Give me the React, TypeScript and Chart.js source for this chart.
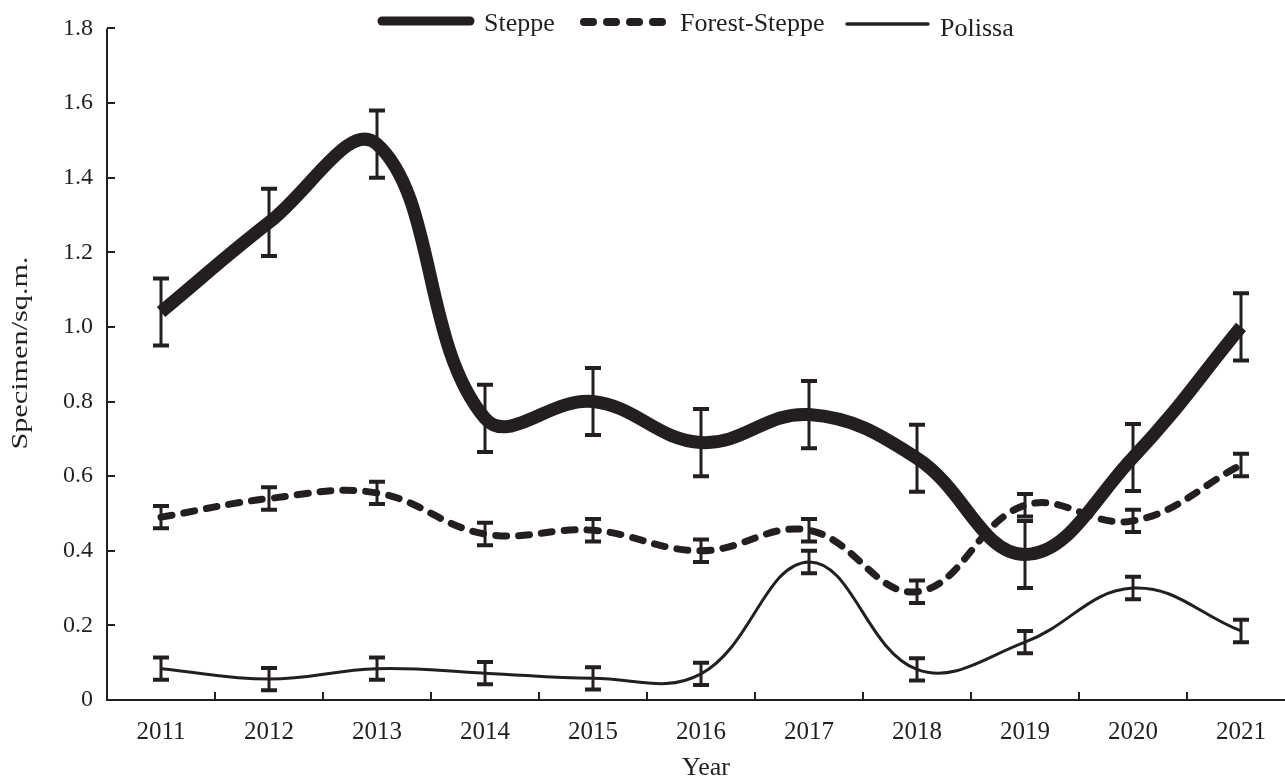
import React, { useEffect, useRef } from 'react';
import { Chart, registerables } from 'chart.js';

Chart.register(...registerables);

// Survey years
const years = ['2011', '2012', '2013', '2014', '2015', '2016', '2017', '2018', '2019', '2020', '2021'];

// Mean density (specimen per sq.m.) by natural zone, with error margins
const steppe = [1.04, 1.28, 1.49, 0.755, 0.80, 0.69, 0.765, 0.648, 0.39, 0.65, 1.0];
const steppeErr = [0.09, 0.09, 0.09, 0.09, 0.09, 0.09, 0.09, 0.09, 0.09, 0.09, 0.09];

const forestSteppe = [0.49, 0.54, 0.555, 0.445, 0.455, 0.40, 0.455, 0.29, 0.522, 0.48, 0.63];
const forestSteppeErr = [0.03, 0.03, 0.03, 0.03, 0.03, 0.03, 0.03, 0.03, 0.03, 0.03, 0.03];

const polissa = [0.084, 0.056, 0.084, 0.072, 0.058, 0.07, 0.37, 0.082, 0.155, 0.30, 0.185];
const polissaErr = [0.03, 0.03, 0.03, 0.03, 0.03, 0.03, 0.03, 0.03, 0.03, 0.03, 0.03];

const yTicks = [0, 0.2, 0.4, 0.6, 0.8, 1.0, 1.2, 1.4, 1.6, 1.8];

const INK = '#231f20';
const SERIF = '"Liberation Serif", "Times New Roman", serif';

const errors = [steppeErr, forestSteppeErr, polissaErr];

// Axis frame, inward tick marks, error bars, titles and the line legend
const framePlugin = {
  id: 'frame',
  afterDatasetsDraw(chart: any) {
    const { ctx, chartArea, scales } = chart;
    const xs = scales.x;
    const ys = scales.y;
    ctx.save();
    ctx.strokeStyle = INK;
    ctx.lineCap = 'butt';

    // error bars
    chart.data.datasets.forEach((ds: any, di: number) => {
      const err = errors[di];
      ds.data.forEach((v: number, i: number) => {
        const x = xs.getPixelForValue(i);
        const yTop = ys.getPixelForValue(v + err[i]);
        const yBot = ys.getPixelForValue(v - err[i]);
        ctx.lineWidth = 3;
        ctx.beginPath();
        ctx.moveTo(x, yTop);
        ctx.lineTo(x, yBot);
        ctx.stroke();
        ctx.lineWidth = 4;
        ctx.beginPath();
        ctx.moveTo(x - 8, yTop);
        ctx.lineTo(x + 8, yTop);
        ctx.moveTo(x - 8, yBot);
        ctx.lineTo(x + 8, yBot);
        ctx.stroke();
      });
    });

    // axis lines
    ctx.lineWidth = 2;
    ctx.beginPath();
    ctx.moveTo(chartArea.left, chartArea.top);
    ctx.lineTo(chartArea.left, chartArea.bottom);
    ctx.lineTo(chartArea.right, chartArea.bottom);
    ctx.stroke();

    // y tick marks, pointing into the plot
    ctx.beginPath();
    yTicks.forEach((t) => {
      if (t === 0) return;
      const y = Math.round(ys.getPixelForValue(t));
      ctx.moveTo(chartArea.left, y);
      ctx.lineTo(chartArea.left + 8, y);
    });
    // x tick marks at category boundaries
    for (let i = 0; i < years.length - 1; i++) {
      const x = Math.round((xs.getPixelForValue(i) + xs.getPixelForValue(i + 1)) / 2);
      ctx.moveTo(x, chartArea.bottom);
      ctx.lineTo(x, chartArea.bottom - 8);
    }
    ctx.stroke();

    // axis titles
    ctx.fillStyle = INK;
    ctx.textAlign = 'center';
    ctx.textBaseline = 'alphabetic';
    ctx.font = `26px ${SERIF}`;
    ctx.fillText('Year', (chartArea.left + chartArea.right) / 2 + 5, 775);
    ctx.font = `24px ${SERIF}`;
    ctx.save();
    ctx.translate(27, 353);
    ctx.rotate(-Math.PI / 2);
    ctx.scale(1.26, 1);
    ctx.fillText('Specimen/sq.m.', 0, 0);
    ctx.restore();

    // legend
    const items = [
      { label: 'Steppe', x0: 382, x1: 470, y: 21, width: 9, dash: [] as number[], tx: 484, ty: 31 },
      { label: 'Forest-Steppe', x0: 584, x1: 664, y: 22, width: 8, dash: [9, 14], tx: 680, ty: 31 },
      { label: 'Polissa', x0: 847, x1: 928, y: 24, width: 3.5, dash: [] as number[], tx: 940, ty: 36 },
    ];
    ctx.font = `26px ${SERIF}`;
    ctx.textAlign = 'left';
    items.forEach((it) => {
      ctx.lineWidth = it.width;
      ctx.lineCap = 'round';
      ctx.setLineDash(it.dash);
      ctx.beginPath();
      ctx.moveTo(it.x0, it.y);
      ctx.lineTo(it.x1, it.y);
      ctx.stroke();
      ctx.setLineDash([]);
      ctx.fillText(it.label, it.tx, it.ty);
    });
    ctx.restore();
  },
};

export default function App() {
  const canvasRef = useRef<HTMLCanvasElement | null>(null);

  useEffect(() => {
    document.body.style.margin = '0';
    const canvas = canvasRef.current;
    if (!canvas) return;
    const chart = new Chart(canvas, {
      type: 'line',
      data: {
        labels: years,
        datasets: [
          {
            label: 'Steppe',
            data: steppe,
            borderColor: INK,
            borderWidth: 13,
            tension: 0.4,
            pointRadius: 0,
            fill: false,
          },
          {
            label: 'Forest-Steppe',
            data: forestSteppe,
            borderColor: INK,
            borderWidth: 7,
            borderDash: [11, 12],
            borderCapStyle: 'round',
            tension: 0.4,
            pointRadius: 0,
            fill: false,
          },
          {
            label: 'Polissa',
            data: polissa,
            borderColor: INK,
            borderWidth: 3,
            tension: 0.4,
            pointRadius: 0,
            fill: false,
          },
        ],
      },
      options: {
        animation: false,
        responsive: false,
        devicePixelRatio: 1,
        layout: { padding: { top: 22, left: 0, right: 0, bottom: 0 } },
        plugins: {
          legend: { display: false },
          tooltip: { enabled: false },
        },
        scales: {
          x: {
            type: 'category',
            offset: true,
            grid: { display: false, drawTicks: false },
            border: { display: false },
            ticks: {
              color: INK,
              font: { family: SERIF, size: 25 },
              padding: 17,
              maxRotation: 0,
            },
            afterFit: (scale: any) => {
              scale.height = 77;
            },
          },
          y: {
            min: 0,
            max: 1.8,
            grid: { display: false, drawTicks: false },
            border: { display: false },
            afterBuildTicks: (scale: any) => {
              scale.ticks = yTicks.map((v) => ({ value: v }));
            },
            ticks: {
              color: INK,
              font: { family: SERIF, size: 24 },
              padding: 14,
              callback: (v: any) => (Number(v) === 0 ? '0' : Number(v).toFixed(1)),
            },
            afterFit: (scale: any) => {
              scale.width = 107;
            },
          },
        },
      },
      plugins: [framePlugin],
    });
    return () => chart.destroy();
  }, []);

  return (
    <div
      style={{
        position: 'fixed',
        left: 0,
        top: 0,
        width: 1285,
        height: 777,
        overflow: 'hidden',
        background: '#fff',
      }}
    >
      <canvas ref={canvasRef} width={1295} height={777} style={{ display: 'block' }} />
    </div>
  );
}
